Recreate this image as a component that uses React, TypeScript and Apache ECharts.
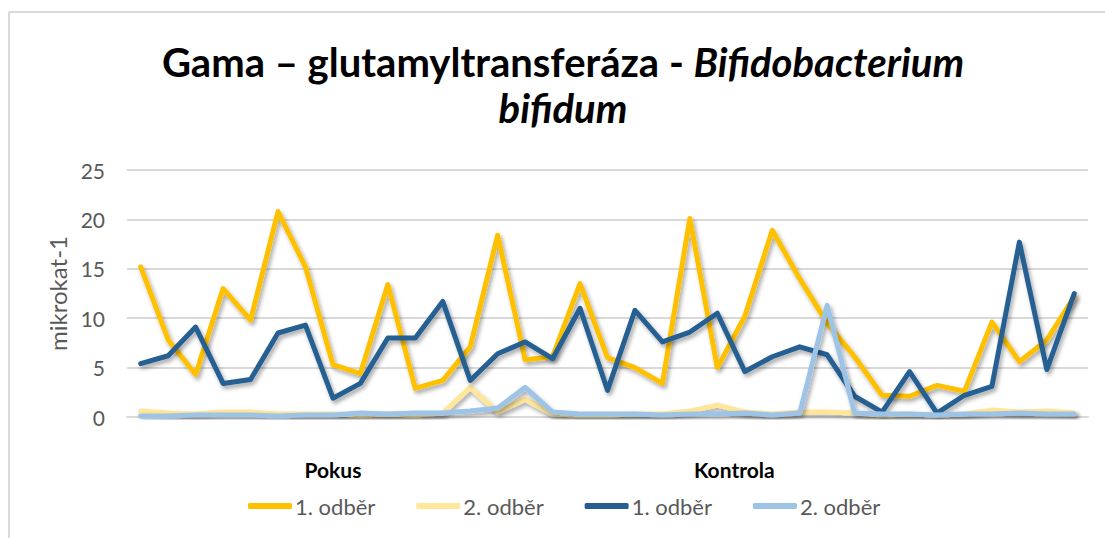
import React, { useEffect, useRef } from "react";
import * as echarts from "echarts";

const categories: string[] = Array.from({ length: 35 }, (_, i) =>
  i === 7 ? "Pokus" : i === 21 ? "Kontrola" : ""
);

const pokus1: number[] = [15.2, 7.8, 4.3, 13.0, 9.8, 20.8, 15.2, 5.3, 4.4, 13.4, 2.9, 3.7, 7.1, 18.4, 5.8, 6.1, 13.5, 6.0, 5.0, 3.4, 20.1, 5.0, 10.2, 18.9, 14.0, 9.5, 6.1, 2.2, 2.1, 3.2, 2.6, 9.6, 5.6, 7.8, 12.2];
const pokus2: number[] = [0.6, 0.4, 0.3, 0.5, 0.5, 0.3, 0.3, 0.3, 0.2, 0.3, 0.2, 0.4, 3.0, 0.5, 1.8, 0.3, 0.2, 0.2, 0.3, 0.3, 0.6, 1.2, 0.5, 0.3, 0.5, 0.5, 0.4, 0.2, 0.3, 0.2, 0.3, 0.7, 0.5, 0.6, 0.4];
const kontrola1: number[] = [5.4, 6.2, 9.1, 3.4, 3.8, 8.5, 9.3, 1.9, 3.4, 8.0, 8.0, 11.7, 3.7, 6.4, 7.6, 5.9, 11.0, 2.7, 10.8, 7.6, 8.6, 10.5, 4.6, 6.1, 7.1, 6.3, 2.1, 0.5, 4.6, 0.4, 2.2, 3.1, 17.7, 4.8, 12.5];
const kontrola2: number[] = [0.1, 0.1, 0.2, 0.2, 0.2, 0.1, 0.2, 0.2, 0.4, 0.3, 0.4, 0.4, 0.6, 0.9, 3.0, 0.5, 0.3, 0.3, 0.3, 0.2, 0.3, 0.3, 0.4, 0.2, 0.4, 11.3, 0.4, 0.3, 0.3, 0.2, 0.3, 0.3, 0.4, 0.3, 0.3];

const seriesNames: string[] = ["Pokus – 1. odběr", "Pokus – 2. odběr", "Kontrola – 1. odběr", "Kontrola – 2. odběr"];
const seriesColors: string[] = ["#FFC000", "#FFE699", "#255E91", "#9DC3E6"];
const seriesData: number[][] = [pokus1, pokus2, kontrola1, kontrola2];

const FONT = "Lato, 'Open Sans', sans-serif";

export default function App() {
  const ref = useRef<HTMLDivElement>(null);
  useEffect(() => {
    if (!ref.current) return;
    const chart = echarts.init(ref.current, undefined, { renderer: "svg" });
    chart.setOption({
      animation: false,
      backgroundColor: "#ffffff",
      textStyle: { fontFamily: FONT },
      grid: { left: 127, right: 17, top: 170, bottom: 121, containLabel: false },
      graphic: [
        { type: "line", shape: { x1: 9, y1: 12, x2: 1105, y2: 12 }, style: { stroke: "#d9d9d9", lineWidth: 2 } },
        { type: "line", shape: { x1: 9, y1: 12, x2: 9, y2: 538 }, style: { stroke: "#d9d9d9", lineWidth: 2 } },
        {
          type: "text",
          x: 563,
          y: 62,
          style: {
            text: "{a|Gama – glutamyltransferáza - }{b|Bifidobacterium}",
            align: "center",
            verticalAlign: "middle",
            rich: {
              a: { fontFamily: FONT, fontWeight: "bold", fontSize: 40, fill: "#000" },
              b: { fontFamily: FONT, fontWeight: "bold", fontStyle: "italic", fontSize: 40, fill: "#000" },
            },
          },
        },
        {
          type: "text",
          x: 563,
          y: 108,
          style: {
            text: "bifidum",
            align: "center",
            verticalAlign: "middle",
            fontFamily: FONT,
            fontWeight: "bold",
            fontStyle: "italic",
            fontSize: 40,
            fill: "#000",
          },
        },
      ],
      legend: {
        bottom: 16,
        left: 243,
        itemWidth: 44,
        itemHeight: 6,
        itemGap: 41,
        icon: "roundRect",
        data: seriesNames,
        formatter: (name: string) => name.split(" – ")[1],
        textStyle: { fontFamily: FONT, fontSize: 22, color: "#595959", padding: [0, 0, 0, -2] },
      },
      xAxis: {
        type: "category",
        data: categories,
        boundaryGap: true,
        axisLine: { show: true, lineStyle: { color: "#d9d9d9", width: 2 } },
        axisTick: { show: false },
        axisLabel: {
          interval: 0,
          margin: 42,
          formatter: (v: string) => (v === "Kontrola" ? "{k|" + v + "}" : v ? "{p|" + v + "}" : ""),
          rich: {
            p: { fontFamily: FONT, fontWeight: "bold", fontSize: 21, color: "#000" },
            k: { fontFamily: FONT, fontWeight: "bold", fontSize: 21, color: "#000", padding: [0, 0, 0, 34] },
          },
        },
      },
      yAxis: {
        type: "value",
        min: 0,
        max: 25,
        interval: 5,
        name: "mikrokat-1",
        nameLocation: "middle",
        nameGap: 52,
        nameTextStyle: { fontFamily: FONT, fontSize: 24, color: "#595959" },
        axisLine: { show: false },
        axisTick: { show: false },
        axisLabel: { margin: 22, fontFamily: FONT, fontSize: 21, color: "#595959" },
        splitLine: { lineStyle: { color: "#d9d9d9", width: 2 } },
      },
      series: seriesNames.map((name, i) => ({
        name,
        type: "line",
        data: seriesData[i],
        showSymbol: false,
        symbol: "none",
        color: seriesColors[i],
        lineStyle: {
          color: seriesColors[i],
          width: 5,
          cap: "round",
          join: "round",
          shadowColor: "rgba(0,0,0,0.35)",
          shadowBlur: 4,
          shadowOffsetX: 2,
          shadowOffsetY: 3,
        },
        itemStyle: { color: seriesColors[i] },
        z: 2 + i,
      })),
    });
    return () => chart.dispose();
  }, []);
  return (
    <div
      ref={ref}
      style={{ position: "fixed", left: 0, top: 0, width: 1105, height: 538 }}
    />
  );
}
